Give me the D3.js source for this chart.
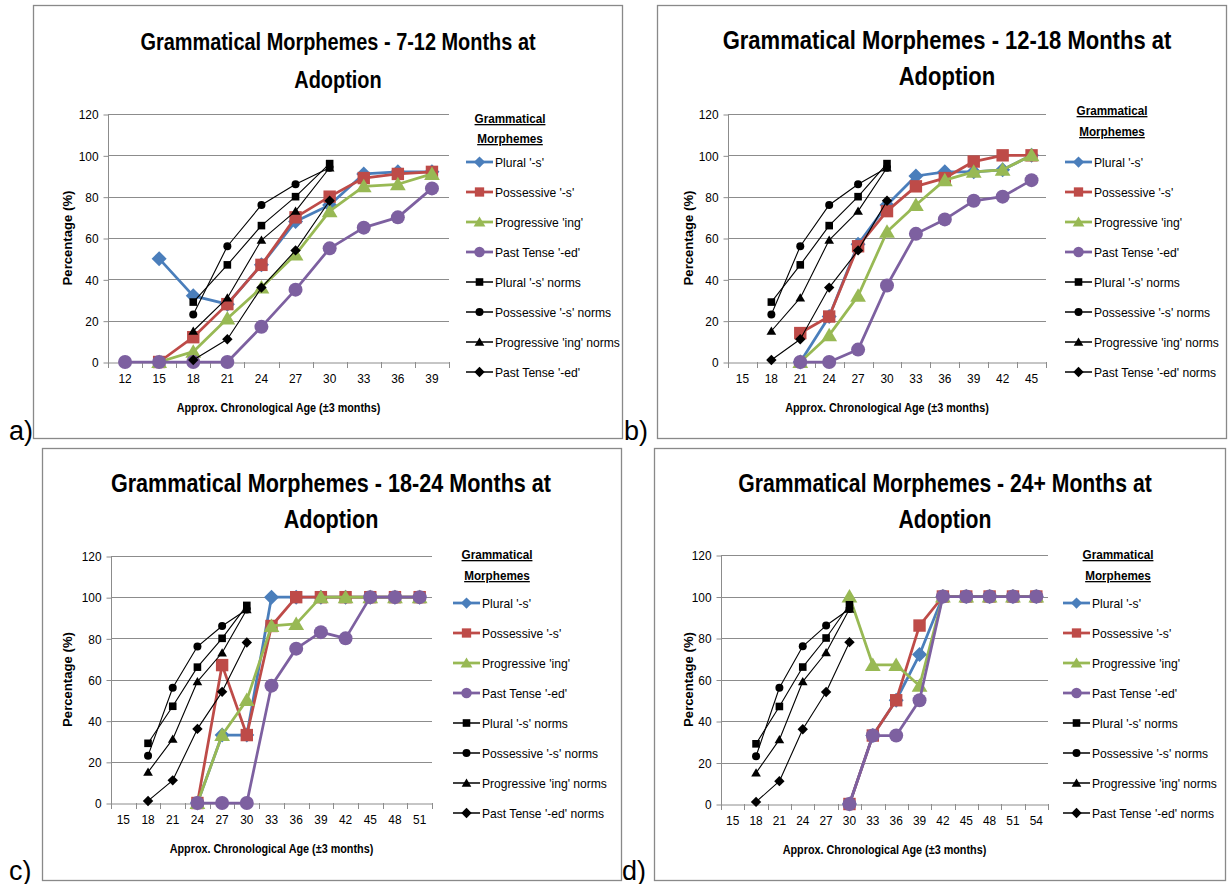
<!DOCTYPE html>
<html>
<head>
<meta charset="utf-8">
<script src="https://cdn.jsdelivr.net/npm/d3@7/dist/d3.min.js"></script>
<style>
  body { margin: 0; background: #fff; }
  text { font-family: "Liberation Sans", Arial, sans-serif; fill: #000; }
</style>
</head>
<body>
<svg id="chart" width="1229" height="884"></svg>
<script>
// ---- data ----
const seriesNames = ["Plural '-s'", "Possessive '-s'", "Progressive 'ing'", "Past Tense '-ed'",
  "Plural '-s' norms", "Possessive '-s' norms", "Progressive 'ing' norms", "Past Tense '-ed' norms"];
const yTicks = [0, 20, 40, 60, 80, 100, 120];

// norms (same in every panel)
const normAges = ["18", "21", "24", "27", "30"];
const pluralNorms = [29, 47, 66, 80, 96];
const possessiveNorms = [23, 56, 76, 86, 94];
const progressiveNorms = [15, 31, 59, 73, 94];
const pastNorms = [1, 11, 36, 54, 78];

// a) 7-12 months at adoption
const agesA = ["12", "15", "18", "21", "24", "27", "30", "33", "36", "39"];
const pluralA = [null, 50, 32, 28, 47, 68, 76, 91, 92, 92];
const possessiveA = [null, 0, 12, 28, 47, 70, 80, 89, 91, 92];
const progressiveA = [null, 0, 5, 21, 36, 52, 73, 85, 86, 91];
const pastA = [0, 0, 0, 0, 17, 35, 55, 65, 70, 84];

// b) 12-18 months at adoption
const agesB = ["15", "18", "21", "24", "27", "30", "33", "36", "39", "42", "45"];
const pluralB = [null, null, 0, 22, 57, 76, 90, 92, 92, 93, 100];
const possessiveB = [null, null, 14, 22, 56, 73, 85, 89, 97, 100, 100];
const progressiveB = [null, null, 0, 13, 32, 63, 76, 88, 92, 93, 100];
const pastB = [null, null, 0, 0, 6, 37, 62, 69, 78, 80, 88];

// c) 18-24 months at adoption
const agesC = ["15", "18", "21", "24", "27", "30", "33", "36", "39", "42", "45", "48", "51"];
const pluralC = [null, null, null, 0, 33, 33, 100, 100, 100, 100, 100, 100, 100];
const possessiveC = [null, null, null, 0, 67, 33, 86, 100, 100, 100, 100, 100, 100];
const progressiveC = [null, null, null, 0, 33, 50, 86, 87, 100, 100, 100, 100, 100];
const pastC = [null, null, null, 0, 0, 0, 57, 75, 83, 80, 100, 100, 100];

// d) 24+ months at adoption
const agesD = ["15", "18", "21", "24", "27", "30", "33", "36", "39", "42", "45", "48", "51", "54"];
const pluralD = [null, null, null, null, null, 0, 33, 50, 72, 100, 100, 100, 100, 100];
const possessiveD = [null, null, null, null, null, 0, 33, 50, 86, 100, 100, 100, 100, 100];
const progressiveD = [null, null, null, null, null, 100, 67, 67, 57, 100, 100, 100, 100, 100];
const pastD = [null, null, null, null, null, 0, 33, 33, 50, 100, 100, 100, 100, 100];

// ---- styles ----
const colors = ["#4A7EBB", "#BE4B48", "#98B954", "#7D60A0", "#000", "#000", "#000", "#000"];
const shapes = ["diamond", "square", "triangle", "circle", "square", "circle", "triangle", "diamond"];
const markSize = [7.5, 6.2, 7.5, 7, 3.8, 4, 4.6, 5.2];
const lineW = [2.75, 2.75, 2.75, 2.75, 1.1, 1.1, 1.1, 1.1];

function shapePath(type, r) {
  if (type === "circle") return d3.symbol(d3.symbolCircle, Math.PI * r * r)();
  if (type === "square") return `M${-r},${-r}H${r}V${r}H${-r}Z`;
  if (type === "diamond") return `M0,${-r}L${r},0L0,${r}L${-r},0Z`;
  return `M0,${-r}L${r * 1.05},${r * 0.8}L${-r * 1.05},${r * 0.8}Z`;
}

// squeeze Arial-metric text to a Calibri-like width
function narrow(sel, k) {
  sel.each(function () {
    const w = this.getComputedTextLength();
    d3.select(this).attr("textLength", w * k).attr("lengthAdjust", "spacingAndGlyphs");
  });
}

const svg = d3.select("#chart");

function drawPanel(p) {
  const g = svg.append("g");
  g.append("rect")
    .attr("x", p.box[0] + 0.5).attr("y", p.box[1] + 0.5)
    .attr("width", p.box[2] - p.box[0]).attr("height", p.box[3] - p.box[1])
    .attr("fill", "none").attr("stroke", "#898989").attr("stroke-width", 1.3);

  g.append("text").attr("x", p.label[0]).attr("y", p.label[1])
    .attr("font-size", 27).text(p.labelText);

  p.title.forEach((t, i) => {
    g.append("text").attr("x", p.titleX).attr("y", p.titleY[i])
      .attr("text-anchor", "middle").attr("font-size", p.titleSize).attr("font-weight", "bold").text(t)
      .call(narrow, 0.83);
  });

  const x = d3.scaleBand().domain(p.ages).range([p.x0, p.x1]);
  const y = d3.scaleLinear().domain([0, 120]).range([p.y0, p.y1]);

  // gridlines
  g.selectAll(".grid").data(yTicks.slice(1)).enter().append("line")
    .attr("x1", p.x0).attr("x2", p.x1)
    .attr("y1", d => Math.round(y(d)) + 0.5).attr("y2", d => Math.round(y(d)) + 0.5)
    .attr("stroke", "#8c8c8c").attr("stroke-width", 1);

  // y axis
  const ya = g.append("g").attr("transform", `translate(${p.x0 + 0.5},0.5)`)
    .call(d3.axisLeft(y).tickValues(yTicks).tickSize(5).tickPadding(5));
  ya.select(".domain").attr("stroke", "#8c8c8c").attr("d", `M0,${y(120)}V${y(0)}`);
  ya.selectAll(".tick line").attr("stroke", "#8c8c8c");
  ya.selectAll(".tick text").attr("font-size", 13.5).style("font-family", null).attr("fill", "#222")
    .call(narrow, 0.88);

  // x axis
  const xa = g.append("g").attr("transform", `translate(0,${Math.round(p.y0) + 0.5})`)
    .call(d3.axisBottom(x).tickSize(0).tickPadding(11));
  xa.select(".domain").attr("stroke", "#8c8c8c");
  xa.selectAll(".tick text").attr("font-size", 13.5).style("font-family", null).attr("fill", "#222")
    .call(narrow, 0.88);
  g.selectAll(".bt").data(p.ages.map(a => x(a)).concat([p.x1])).enter().append("line")
    .attr("x1", d => Math.round(d) + 0.5).attr("x2", d => Math.round(d) + 0.5)
    .attr("y1", p.y0).attr("y2", p.y0 + 6)
    .attr("stroke", "#8c8c8c");

  // axis titles
  g.append("text")
    .attr("transform", `translate(${p.yLabelX},${(y(0) + y(120)) / 2}) rotate(-90)`)
    .attr("text-anchor", "middle").attr("font-size", 12.5).attr("font-weight", "bold")
    .text("Percentage (%)").call(narrow, 1.05);
  g.append("text").attr("x", (p.x0 + p.x1) / 2).attr("y", p.y0 + 50)
    .attr("text-anchor", "middle").attr("font-size", 12).attr("font-weight", "bold")
    .text("Approx. Chronological Age (\u00b13 months)").call(narrow, 0.9);

  // series
  const allSeries = [
    p.ages.map((a, i) => ({ age: a, v: p.plural[i] })),
    p.ages.map((a, i) => ({ age: a, v: p.possessive[i] })),
    p.ages.map((a, i) => ({ age: a, v: p.progressive[i] })),
    p.ages.map((a, i) => ({ age: a, v: p.past[i] })),
    normAges.map((a, i) => ({ age: a, v: pluralNorms[i] })),
    normAges.map((a, i) => ({ age: a, v: possessiveNorms[i] })),
    normAges.map((a, i) => ({ age: a, v: progressiveNorms[i] })),
    normAges.map((a, i) => ({ age: a, v: pastNorms[i] }))
  ];
  const line = d3.line()
    .defined(d => d.v != null)
    .x(d => x(d.age) + x.bandwidth() / 2)
    .y(d => y(d.v));

  allSeries.forEach((data, s) => {
    const sg = g.append("g");
    sg.append("path").datum(data).attr("d", line)
      .attr("fill", "none").attr("stroke", colors[s]).attr("stroke-width", lineW[s])
      .attr("stroke-linejoin", "round");
    sg.selectAll("path.m").data(data.filter(d => d.v != null)).enter().append("path")
      .attr("class", "m")
      .attr("transform", d => `translate(${x(d.age) + x.bandwidth() / 2},${y(d.v)})`)
      .attr("d", shapePath(shapes[s], markSize[s]))
      .attr("fill", colors[s]);
  });

  // legend
  const lg = g.append("g");
  ["Grammatical", "Morphemes"].forEach((t, i) => {
    lg.append("text").attr("x", p.legTitleX).attr("y", p.legTitleY[i])
      .attr("text-anchor", "middle").attr("font-size", 13).attr("font-weight", "bold")
      .attr("text-decoration", "underline").text(t).call(narrow, 0.9);
  });
  const names = seriesNames.slice();
  if (p.lastLegend) names[7] = p.lastLegend;
  names.forEach((n, s) => {
    const ly = p.legY0 + s * 30;
    lg.append("line").attr("x1", p.legX).attr("x2", p.legX + 27)
      .attr("y1", ly).attr("y2", ly)
      .attr("stroke", colors[s]).attr("stroke-width", s < 4 ? 2.75 : 1.5);
    lg.append("path").attr("transform", `translate(${p.legX + 13.5},${ly})`)
      .attr("d", shapePath(shapes[s], s < 4 ? markSize[s] * 0.75 : markSize[s]))
      .attr("fill", colors[s]);
    lg.append("text").attr("x", p.legX + 29).attr("y", ly + 5)
      .attr("font-size", 13).text(n).call(narrow, 0.93);
  });
}

const panels = [
  { box: [33, 5, 622, 438], label: [9, 440], labelText: "a)",
    title: ["Grammatical Morphemes - 7-12 Months at", "Adoption"], titleX: 338, titleY: [50, 88], titleSize: 24,
    ages: agesA, plural: pluralA, possessive: possessiveA, progressive: progressiveA, past: pastA,
    x0: 108, x1: 449, y0: 362, y1: 114, yLabelX: 72,
    legX: 466, legTitleX: 510, legTitleY: [123, 143], legY0: 162, lastLegend: "Past Tense '-ed'" },
  { box: [657, 5, 1226, 438], label: [624, 440], labelText: "b)",
    title: ["Grammatical Morphemes - 12-18 Months at", "Adoption"], titleX: 947, titleY: [49, 85], titleSize: 26.5,
    ages: agesB, plural: pluralB, possessive: possessiveB, progressive: progressiveB, past: pastB,
    x0: 728, x1: 1046, y0: 362, y1: 114, yLabelX: 693,
    legX: 1065, legTitleX: 1112, legTitleY: [115, 136], legY0: 162 },
  { box: [42, 448, 621, 880], label: [9, 880], labelText: "c)",
    title: ["Grammatical Morphemes - 18-24 Months at", "Adoption"], titleX: 331, titleY: [492, 528], titleSize: 26,
    ages: agesC, plural: pluralC, possessive: possessiveC, progressive: progressiveC, past: pastC,
    x0: 111, x1: 432, y0: 803, y1: 556, yLabelX: 72,
    legX: 453, legTitleX: 497, legTitleY: [559, 580], legY0: 603 },
  { box: [654, 448, 1225, 880], label: [622, 880], labelText: "d)",
    title: ["Grammatical Morphemes - 24+ Months at", "Adoption"], titleX: 945, titleY: [492, 528], titleSize: 25.5,
    ages: agesD, plural: pluralD, possessive: possessiveD, progressive: progressiveD, past: pastD,
    x0: 721, x1: 1048, y0: 804, y1: 555, yLabelX: 693,
    legX: 1063, legTitleX: 1118, legTitleY: [559, 580], legY0: 603 }
];

panels.forEach(drawPanel);
</script>
</body>
</html>
